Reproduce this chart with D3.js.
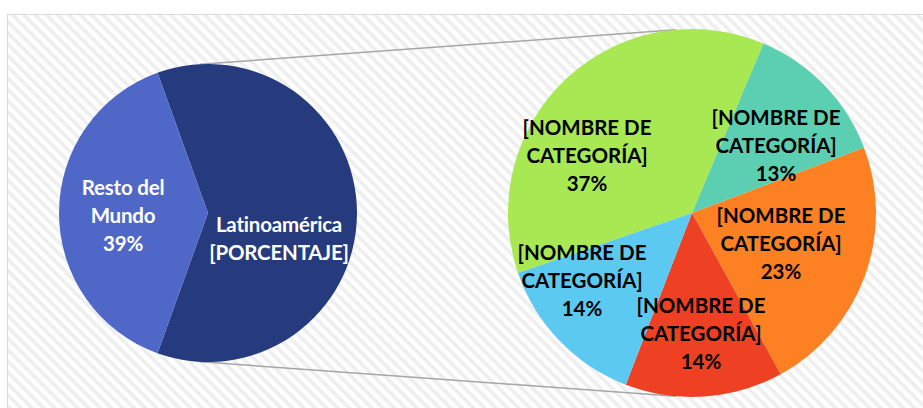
<!DOCTYPE html>
<html>
<head>
<meta charset="utf-8">
<script src="https://cdn.jsdelivr.net/npm/d3@7"></script>
<style>
  body { margin: 0; background: #fff; }
  text { font-family: Lato, "Open Sans", sans-serif; font-weight: bold; }
</style>
</head>
<body>
<div id="chart"></div>
<script>
const width = 923;
const height = 408;

// main pie
const mainNames = ["Latinoamérica", "Resto del Mundo"];
const mainValues = [61, 39];
const mainLabels = [["Latinoamérica", "[PORCENTAJE]"], ["Resto del", "Mundo", "39%"]];
const mainColors = ["#263a7e", "#4f67c7"];

// secondary pie (breakdown of Latinoamérica)
const subNames = ["[NOMBRE DE CATEGORÍA]", "[NOMBRE DE CATEGORÍA]", "[NOMBRE DE CATEGORÍA]",
  "[NOMBRE DE CATEGORÍA]", "[NOMBRE DE CATEGORÍA]"];
const subValues = [37, 13, 23, 14, 14];
const subColors = ["#a8e852", "#5ccfb3", "#fd8122", "#ee4124", "#5cc9f1"];

const deg = Math.PI / 180;
const left = { cx: 208, cy: 213, r: 149 };
const right = { cx: 692, cy: 213, r: 184 };
const lineH = 28;
const fontSize = 20.5;

var svg = d3.select("#chart").append("svg")
  .attr("width", width)
  .attr("height", height);

// striped background
var defs = svg.append("defs");
var pat = defs.append("pattern")
  .attr("id", "stripes")
  .attr("patternUnits", "userSpaceOnUse")
  .attr("width", 8)
  .attr("height", 8)
  .attr("patternTransform", "rotate(45)");
pat.append("rect").attr("width", 8).attr("height", 8).attr("fill", "#fefefe");
pat.append("rect").attr("width", 8).attr("height", 3.5).attr("fill", "#eeeeee");

svg.append("rect")
  .attr("x", 7.5).attr("y", 14.5)
  .attr("width", width).attr("height", height)
  .attr("fill", "url(#stripes)")
  .attr("stroke", "#d9d9d9");

// connector lines
function pt(p, a, r) {
  return [p.cx + r * Math.sin(a * deg), p.cy - r * Math.cos(a * deg)];
}
var connectors = [[pt(left, -3, left.r), pt(right, -5, right.r)],
  [pt(left, 183, left.r), pt(right, 185, right.r)]];
svg.selectAll("line.conn").data(connectors).enter().append("line")
  .attr("class", "conn")
  .attr("x1", (d) => d[0][0]).attr("y1", (d) => d[0][1])
  .attr("x2", (d) => d[1][0]).attr("y2", (d) => d[1][1])
  .style("stroke", "#a6a6a6")
  .style("stroke-width", 1.5);

// left pie
var mainPie = d3.pie().sort(null)
  .startAngle(-(0.61 * 180 - 90) * deg)
  .endAngle((360 - (0.61 * 180 - 90)) * deg);
var mainArc = d3.arc().innerRadius(0).outerRadius(left.r);
var gL = svg.append("g").attr("transform", `translate(${left.cx},${left.cy})`);
gL.selectAll("path").data(mainPie(mainValues)).enter().append("path")
  .attr("d", mainArc)
  .style("fill", (d, i) => mainColors[i]);

var mainPos = [[71, 19], [-85, -18]];
gL.selectAll("text").data(mainLabels).enter().append("text")
  .attr("text-anchor", "middle")
  .attr("fill", "#fff")
  .style("font-size", fontSize + "px")
  .style("letter-spacing", "-0.2px")
  .attr("transform", (d, i) => `translate(${mainPos[i][0]},${mainPos[i][1]})`)
  .selectAll("tspan").data((d) => d).enter().append("tspan")
  .attr("x", 0)
  .attr("y", (d, i) => i * lineH)
  .text((d) => d);

// right pie
var subPie = d3.pie().sort(null)
  .startAngle(-109 * deg)
  .endAngle(251 * deg);
var subArc = d3.arc().innerRadius(0).outerRadius(right.r);
var gR = svg.append("g").attr("transform", `translate(${right.cx},${right.cy})`);
gR.selectAll("path").data(subPie(subValues)).enter().append("path")
  .attr("d", subArc)
  .style("fill", (d, i) => subColors[i]);

var subPos = [[-105, -78], [84, -88], [89, 10], [9, 100], [-110, 47]];
gR.selectAll("text").data(subValues).enter().append("text")
  .attr("text-anchor", "middle")
  .attr("fill", "#000")
  .style("font-size", fontSize + "px")
  .attr("transform", (d, i) => `translate(${subPos[i][0]},${subPos[i][1]})`)
  .selectAll("tspan")
  .data((d, i) => ["[NOMBRE DE", "CATEGORÍA]", d + "%"])
  .enter().append("tspan")
  .attr("x", 0)
  .attr("y", (d, i) => i * lineH)
  .text((d) => d);
</script>
</body>
</html>
